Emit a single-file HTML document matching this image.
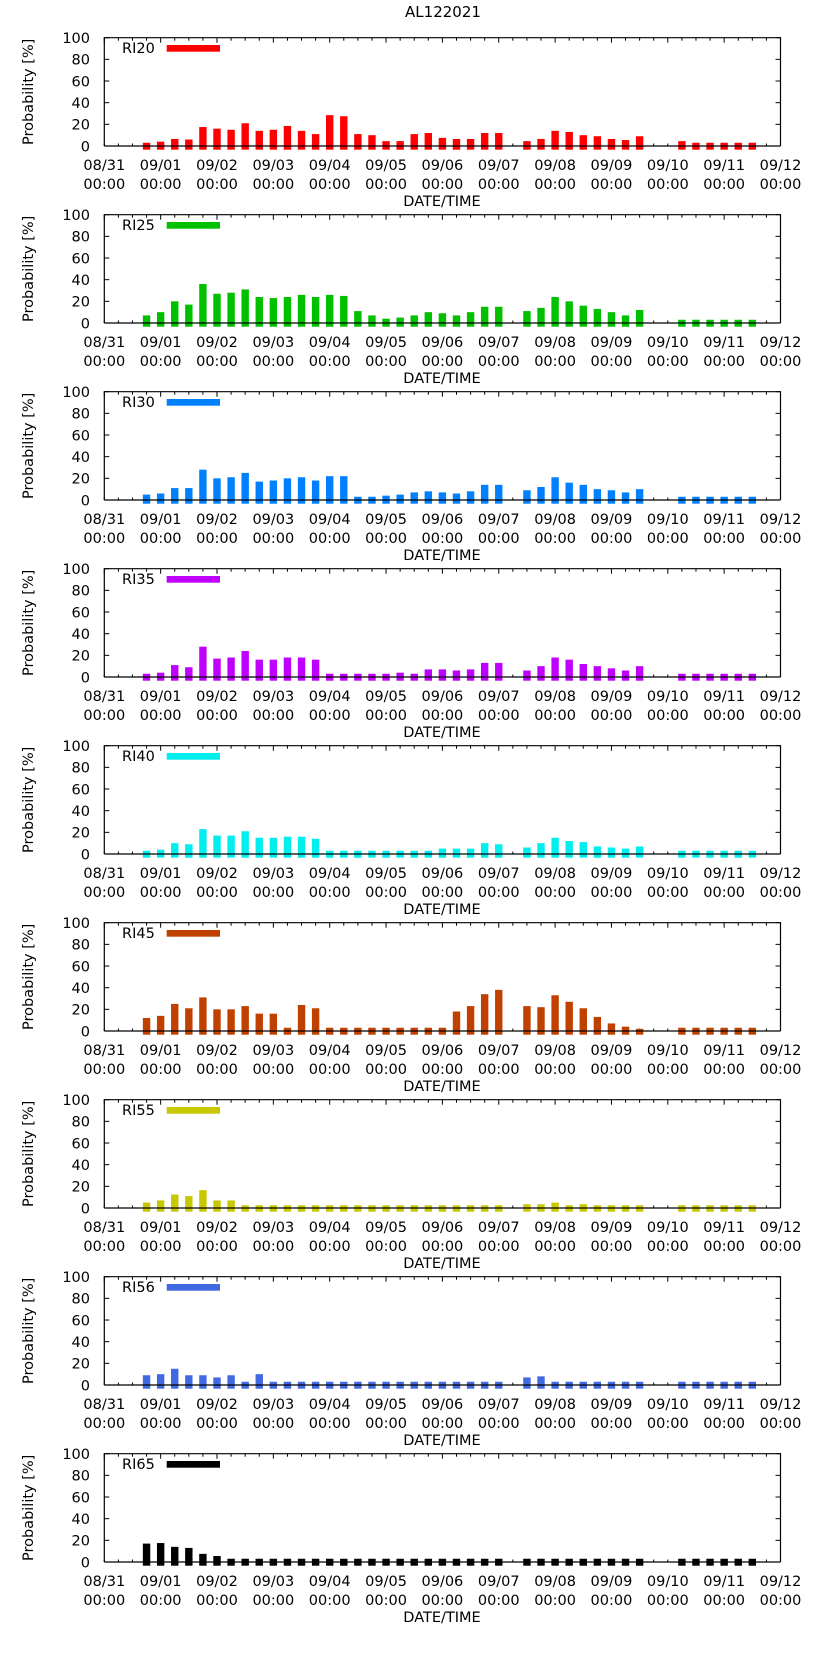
<!DOCTYPE html>
<html><head><meta charset="utf-8">
<style>
body{margin:0;background:#fff;}
svg{display:block;font-family:"DejaVu Sans","Liberation Sans",sans-serif;}
</style></head>
<body>
<svg id="chart" width="822" height="1653" viewBox="0 0 822 1653" xmlns="http://www.w3.org/2000/svg">
<text x="443" y="17" font-size="15" text-anchor="middle">AL122021</text>
</svg>
<script>
const seriesNames = ["RI20","RI25","RI30","RI35","RI40","RI45","RI55","RI56","RI65"];
const seriesColors = ["#ff0000","#00c000","#0080ff","#c000ff","#00eeee","#c04000","#c8c800","#4169e1","#000000"];
// bar times in days since 08/31 00:00
const times = [0.75,1,1.25,1.5,1.75,2,2.25,2.5,2.75,3,3.25,3.5,3.75,4,4.25,4.5,4.75,5,5.25,5.5,5.75,6,6.25,6.5,6.75,7,
  7.5,7.75,8,8.25,8.5,8.75,9,9.25,9.5,
  10.25,10.5,10.75,11,11.25,11.5];
const ri20 = [3,4,6.5,6,17.5,16,15,21,14,15,18.5,14,11,28.5,27.5,11,10,4.5,4.5,11,12,7.5,6.5,6.5,12,12, 4.5,6.5,14,13,10,9,6.5,5.5,9, 4.5,3,3,3,3,3];
const ri25 = [7,10,20,17,36,27,28,31,24,23,24,26,24,26,25,11,7,4,5,7,10,9,7,10,15,15, 11,14,24,20,16,13,10,7,12, 3,3,3,3,3,3];
const ri30 = [5,6,11,11,28,20,21,25,17,18,20,21,18,22,22,3,3,4,5,7,8,7,6,8,14,14, 9,12,21,16,14,10,9,7,10, 3,3,3,3,3,3];
const ri35 = [3,4,11,9,28,17,18,24,16,16,18,18,16,3,3,3,3,3,4,3,7,7,6,7,13,13, 6,10,18,16,12,10,8,6,10, 3,3,3,3,3,3];
const ri40 = [3,4,10,9,23,17,17,21,15,15,16,16,14,3,3,3,3,3,3,3,3,5,5,5,10,9, 6,10,15,12,11,7,6,5,7, 3,3,3,3,3,3];
const ri45 = [12,14,25,21,31,20,20,23,16,16,3,24,21,3,3,3,3,3,3,3,3,3,18,23,34,38, 23,22,33,27,21,13,7,4,2, 3,3,3,3,3,3];
const ri55 = [5,7,12.5,11,16.5,7,7,2.5,2.5,2.5,2.5,2.5,2.5,2.5,2.5,2.5,2.5,2.5,2.5,2.5,2.5,2.5,2.5,2.5,2.5,2.5, 3.5,3.5,5,2.5,3.5,2.5,2.5,2.5,2.5, 2.5,2.5,2.5,2.5,2.5,2.5];
const ri56 = [9,10,15,9,9,7,9,3,10,3,3,3,3,3,3,3,3,3,3,3,3,3,3,3,3,3, 7,8,3,3,3,3,3,3,3, 3,3,3,3,3,3];
const ri65 = [17,17.5,14,13,7.5,5.5,3,3,3,3,3,3,3,3,3,3,3,3,3,3,3,3,3,3,3,3, 3,3,3,3,3,3,3,3,3, 3,3,3,3,3,3];
const allSeries = [ri20,ri25,ri30,ri35,ri40,ri45,ri55,ri56,ri65];
const yTicks = [0,20,40,60,80,100];
const xTickDates = ["08/31","09/01","09/02","09/03","09/04","09/05","09/06","09/07","09/08","09/09","09/10","09/11","09/12"];

const NS="http://www.w3.org/2000/svg";
const svg=document.getElementById('chart');
const L=104.3,R=780.5,DAYS=12,PANEL_STEP=177,TOP0=37.7,ZERO0=146;
function mk(tag,attrs,parent){const e=document.createElementNS(NS,tag);for(const k in attrs)e.setAttribute(k,attrs[k]);(parent||svg).appendChild(e);return e;}
function xScale(d){return L+(R-L)*d/DAYS;}

seriesNames.forEach((name,p)=>{
  const top=TOP0+p*PANEL_STEP, zero=ZERO0+p*PANEL_STEP;
  const yScale=v=>zero-(zero-top)*v/100;
  const g=mk('g',{});
  
  
  for(let k=0;k<=DAYS*4;k++){
    const x=xScale(k/4), len=(k%4===0)?5:3;
    mk('line',{x1:x,y1:top,x2:x,y2:top+len,stroke:'#000','stroke-width':1},g);
    mk('line',{x1:x,y1:zero,x2:x,y2:zero-2.5,stroke:'#000','stroke-width':1},g);
  }
  const vals=allSeries[p];
  times.forEach((t,i)=>{
    const x=xScale(t), y=yScale(vals[i]);
    const b=mk('rect',{x:(x-3.7).toFixed(2),y:y.toFixed(2),width:7.4,height:(zero+3.7-y).toFixed(2),fill:seriesColors[p]},g);
    
    
  });
  const fr=mk('path',{d:`M${L},${zero} L${L},${top} L${R},${top} L${R},${zero}`,fill:'none',stroke:'#000','stroke-width':1.2},g);
  
  
  const zl=mk('line',{x1:L,y1:zero,x2:R,y2:zero,stroke:'#000','stroke-width':1.2},g);
  
  
  xTickDates.forEach((d,k)=>{
    const x=xScale(k);
    const t=mk('text',{x:x,y:zero+24,'font-size':14.5,'text-anchor':'middle'},g);
    t.textContent=d;
    
    
    const t2=mk('text',{x:x,y:zero+43,'font-size':14.5,'text-anchor':'middle'},g);
    t2.textContent='00:00';
    
    
  });
  yTicks.forEach(v=>{
    const y=yScale(v);
    mk('line',{x1:L,y1:y,x2:L+5,y2:y,stroke:'#000','stroke-width':1},g);
    mk('line',{x1:R,y1:y,x2:R-5,y2:y,stroke:'#000','stroke-width':1},g);
    const t=mk('text',{x:90,y:y+5.3,'font-size':14.5,'text-anchor':'end'},g);
    t.textContent=v;
    
    
  });
  const yt=mk('text',{x:0,y:0,'font-size':14.5,'text-anchor':'middle',transform:`translate(33,${(top+zero)/2}) rotate(-90)`},g);
  yt.textContent='Probability [%]';
  
  
  const xt=mk('text',{x:442,y:zero+60,'font-size':14.5,'text-anchor':'middle'},g);
  xt.textContent='DATE/TIME';
  
  
  const lt=mk('text',{x:122,y:top+15.5,'font-size':14.5},g);
  lt.textContent=name;
  
  
  const ls=mk('rect',{x:166.7,y:top+7.3,width:53.3,height:6.7,fill:seriesColors[p]},g);
  
  
});
</script>
</body></html>
